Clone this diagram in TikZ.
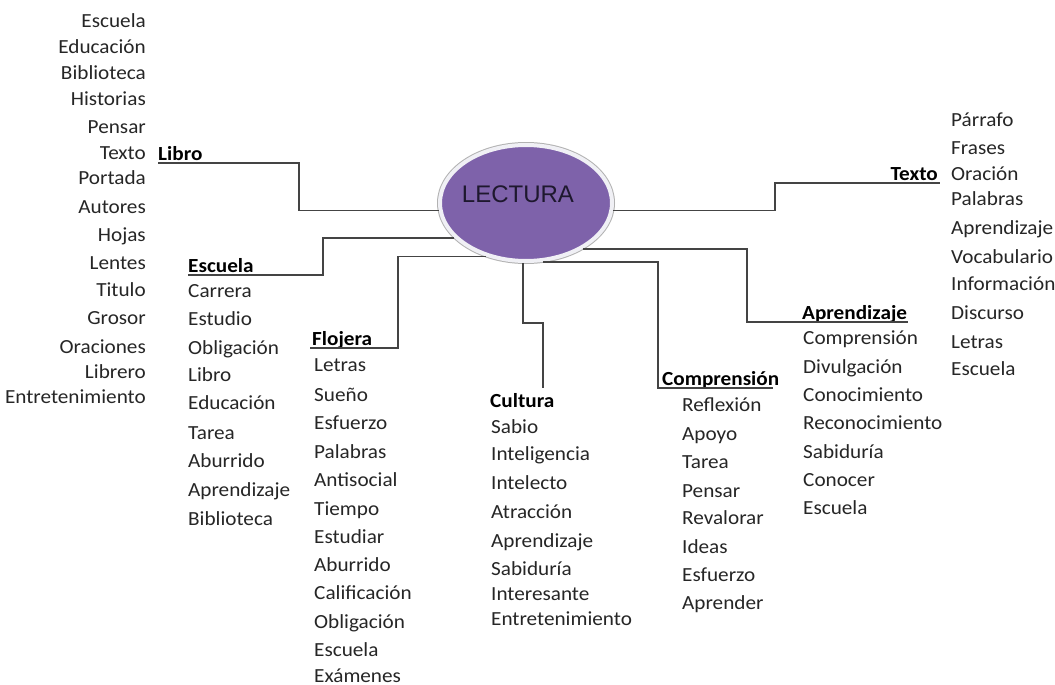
\documentclass[tikz,border=0pt]{standalone}
\usepackage{fontspec}
\setmainfont{Carlito}[FakeStretch=1.06]
\newfontfamily\hubfont{Liberation Sans}
\usetikzlibrary{shapes.geometric}
\definecolor{hubfill}{RGB}{126,98,170}
\definecolor{hubrim}{RGB}{240,240,245}
\definecolor{hubtext}{RGB}{30,24,46}
\definecolor{linkgray}{RGB}{68,68,68}
\definecolor{wordgray}{RGB}{38,38,38}

\begin{document}
\begin{tikzpicture}[x=1pt,y=-1pt,
  word/.style={font=\fontsize{20}{24}\selectfont, text=wordgray, inner sep=0pt},
  wl/.style={word, anchor=base west},
  wr/.style={word, anchor=base east},
  topic/.style={font=\fontsize{20}{24}\selectfont\bfseries, text=black, inner sep=0pt, anchor=base west},
  link/.style={draw=linkgray, line width=1.4pt},
  hub/.style={ellipse, minimum width=172pt, minimum height=116pt, inner sep=0pt,
    fill=hubfill, draw=hubrim, line width=4pt,
    preaction={draw=black!30, line width=6pt}}]

\fill[white] (0,0) rectangle (1055,685);
\useasboundingbox (0,0) rectangle (1055,685);

% central idea
\node[hub, label={[font=\hubfont\fontsize{24}{28}\selectfont, text=hubtext, xshift=-8pt, yshift=9pt]center:LECTURA}] (lectura) at (526,203) {};

% branch titles
\node[topic] (libro) at (158,160) {Libro};
\node[topic] (escuela) at (188,272) {Escuela};
\node[topic] (flojera) at (312,345) {Flojera};
\node[topic] (cultura) at (490,407) {Cultura};
\node[topic] (comprension) at (662,385) {Comprensión};
\node[topic] (aprendizaje) at (802,319) {Aprendizaje};
\node[topic, anchor=base east] (texto) at (938,180) {Texto};

% elbows and underline ends of the connectors
\coordinate (libro-k) at (299,163);  \coordinate (libro-e) at (158,163);
\coordinate (escuela-k) at (323,275); \coordinate (escuela-e) at (188,275);
\coordinate (flojera-k) at (398,348); \coordinate (flojera-e) at (310,348);
\coordinate (cultura-k) at (543,323); \coordinate (cultura-e) at (543,388);
\coordinate (comp-k) at (658,388);   \coordinate (comp-e) at (773,388);
\coordinate (apr-k) at (747,322);    \coordinate (apr-e) at (908,322);
\coordinate (texto-k) at (775,183);  \coordinate (texto-e) at (940,183);

% connectors
\draw[link] (lectura.185.4) -| (libro-k) -- (libro-e);
\draw[link] (lectura.206) -| (escuela-k) -- (escuela-e);
\draw[link] (lectura.233.8) -| (flojera-k) -- (flojera-e);
\draw[link] (lectura.267) |- (cultura-k) -- (cultura-e);
\draw[link] (lectura.286.6) -| (comp-k) -- (comp-e);
\draw[link] (lectura.321.8) -| (apr-k) -- (apr-e);
\draw[link] (lectura.355.3) -| (texto-k) -- (texto-e);

% word lists
\foreach \y/\w [count=\i] in {22/Escuela, 48/Educación, 73/Biblioteca, 99/Historias,
    127/Pensar, 153/Texto, 178/Portada, 207/Autores, 235/Hojas, 263/Lentes,
    290/Titulo, 318/Grosor, 347/Oraciones, 372/Librero, 397/Entretenimiento}
  \node[wr] (libro-w\i) at (146,\y+6) {\w};

\foreach \y/\w [count=\i] in {291/Carrera, 319/Estudio, 348/Obligación, 375/Libro,
    403/Educación, 433/Tarea, 461/Aburrido, 490/Aprendizaje, 519/Biblioteca}
  \node[wl] (escuela-w\i) at (188,\y+6) {\w};

\foreach \y/\w [count=\i] in {365/Letras, 395/Sueño, 423/Esfuerzo, 452/Palabras,
    480/Antisocial, 509/Tiempo, 537/Estudiar, 565/Aburrido, 593/Calificación,
    622/Obligación, 650/Escuela, 676/Exámenes}
  \node[wl] (flojera-w\i) at (314,\y+6) {\w};

\foreach \y/\w [count=\i] in {427/Sabio, 454/Inteligencia, 483/Intelecto, 512/Atracción,
    541/Aprendizaje, 569/Sabiduría, 594/Interesante, 619/Entretenimiento}
  \node[wl] (cultura-w\i) at (491,\y+6) {\w};

\foreach \y/\w [count=\i] in {405/Reflexión, 434/Apoyo, 462/Tarea, 491/Pensar,
    518/Revalorar, 547/Ideas, 575/Esfuerzo, 603/Aprender}
  \node[wl] (comp-w\i) at (682,\y+6) {\w};

\foreach \y/\w [count=\i] in {338/Comprensión, 367/Divulgación, 395/Conocimiento,
    423/Reconocimiento, 452/Sabiduría, 480/Conocer, 508/Escuela}
  \node[wl] (apr-w\i) at (803,\y+6) {\w};

\foreach \y/\w [count=\i] in {120/Párrafo, 148/Frases, 174/Oración, 199/Palabras,
    228/Aprendizaje, 257/Vocabulario, 284/Información, 313/Discurso, 342/Letras,
    369/Escuela}
  \node[wl] (texto-w\i) at (951,\y+6) {\w};

\end{tikzpicture}
\end{document}
